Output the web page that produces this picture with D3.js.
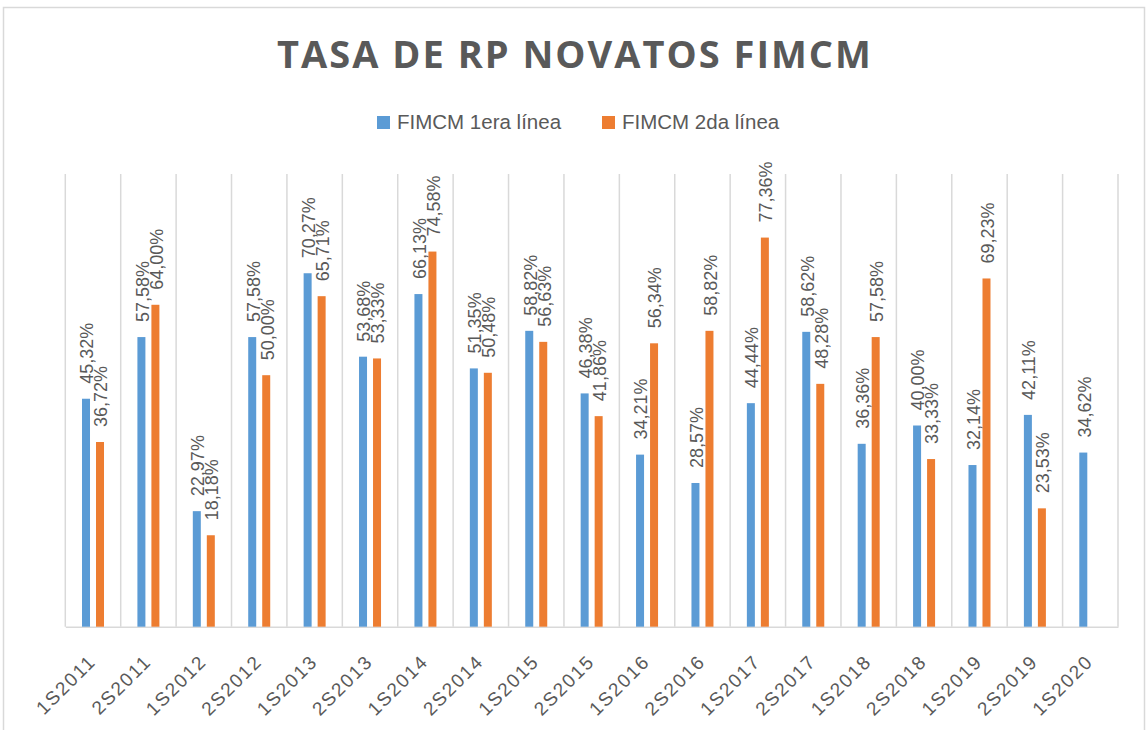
<!DOCTYPE html>
<html>
<head>
<meta charset="utf-8">
<script src="https://cdn.jsdelivr.net/npm/d3@7"></script>
<style>
  html, body { margin: 0; padding: 0; background: #fff; }
  svg { display: block; }
</style>
</head>
<body>
<div id="chart"></div>
<script>
const categories = ["1S2011","2S2011","1S2012","2S2012","1S2013","2S2013","1S2014","2S2014","1S2015","2S2015",
                    "1S2016","2S2016","1S2017","2S2017","1S2018","2S2018","1S2019","2S2019","1S2020"];
const primera = [45.32, 57.58, 22.97, 57.58, 70.27, 53.68, 66.13, 51.35, 58.82, 46.38,
                 34.21, 28.57, 44.44, 58.62, 36.36, 40.00, 32.14, 42.11, 34.62];
const segunda = [36.72, 64.00, 18.18, 50.00, 65.71, 53.33, 74.58, 50.48, 56.63, 41.86,
                 56.34, 58.82, 77.36, 48.28, 57.58, 33.33, 69.23, 23.53, null];
const seriesNames = ["FIMCM 1era línea", "FIMCM 2da línea"];
const seriesColors = ["#5b9bd5", "#ed7d31"];
const yMax = 90;

const W = 1148, H = 730;
const textColor = "#595959";
const gridColor = "#d9d9d9";

const svg = d3.select("#chart").append("svg")
    .attr("width", W)
    .attr("height", H);

svg.append("rect")
    .attr("x", 3.5).attr("y", 7.5)
    .attr("width", 1141).attr("height", 740)
    .attr("fill", "#fff")
    .attr("stroke", gridColor)
    .attr("stroke-width", 1.5);

// title
svg.append("text")
    .attr("x", W / 2 + 1)
    .attr("y", 68)
    .attr("text-anchor", "middle")
    .attr("font-family", "'Open Sans', sans-serif")
    .attr("font-weight", "bold")
    .attr("font-size", 38)
    .attr("letter-spacing", 2)
    .attr("fill", textColor)
    .text("TASA DE RP NOVATOS FIMCM");

// legend
const legendX = [377, 602];
const legend = svg.append("g").selectAll("g")
    .data(seriesNames)
    .join("g")
    .attr("transform", (d, i) => "translate(" + legendX[i] + ",116)");
legend.append("rect")
    .attr("width", 13).attr("height", 13)
    .attr("fill", (d, i) => seriesColors[i]);
legend.append("text")
    .attr("x", 20).attr("y", 13)
    .attr("font-family", "'Liberation Sans', Arial, sans-serif")
    .attr("font-size", 20.5)
    .attr("fill", textColor)
    .text(d => d);

// scales
const x = d3.scaleBand()
    .domain(categories)
    .range([65.3, 1118])
    .paddingInner(0)
    .paddingOuter(0);

const y = d3.scaleLinear()
    .domain([0, yMax])
    .range([626.7, 174]);

// vertical grid lines at category boundaries
const bounds = categories.map(c => x(c)).concat([x.range()[1]]);
svg.append("g").selectAll("line")
    .data(bounds)
    .join("line")
    .attr("x1", d => d).attr("x2", d => d)
    .attr("y1", y(yMax)).attr("y2", y(0))
    .attr("stroke", gridColor)
    .attr("stroke-width", 1.5);

// x axis
const xAxis = svg.append("g")
    .attr("transform", "translate(0," + y(0) + ")")
    .call(d3.axisBottom(x).tickSize(0).tickPadding(0));
xAxis.select(".domain").attr("stroke", gridColor).attr("stroke-width", 1.5);
xAxis.selectAll(".tick text")
    .attr("font-family", "'Liberation Sans', Arial, sans-serif")
    .attr("font-size", 19)
    .attr("letter-spacing", 1.8)
    .attr("fill", textColor)
    .attr("text-anchor", "end")
    .attr("dy", null)
    .attr("y", null)
    .attr("transform", "translate(4,36) rotate(-45)");

// bars
const offsets = [-7, 7];
const barW = 8;
const fmt = v => v.toFixed(2).replace(".", ",") + "%";

[primera, segunda].forEach((vals, s) => {
    const data = categories.map((c, i) => ({ c: c, v: vals[i] })).filter(d => d.v !== null);
    const g = svg.append("g");
    g.selectAll("rect")
        .data(data)
        .join("rect")
        .attr("x", d => x(d.c) + x.bandwidth() / 2 + offsets[s] - barW / 2)
        .attr("y", d => y(d.v))
        .attr("width", barW)
        .attr("height", d => y(0) - y(d.v))
        .attr("fill", seriesColors[s]);
    g.selectAll("text")
        .data(data)
        .join("text")
        .attr("transform", d => "translate(" + (x(d.c) + x.bandwidth() / 2 + offsets[s] + 1) + "," + (y(d.v) - 15) + ") rotate(-90)")
        .attr("dy", "0.35em")
        .attr("font-family", "'Liberation Sans', Arial, sans-serif")
        .attr("font-size", 18)
        .attr("fill", textColor)
        .text(d => fmt(d.v));
});
</script>
</body>
</html>
